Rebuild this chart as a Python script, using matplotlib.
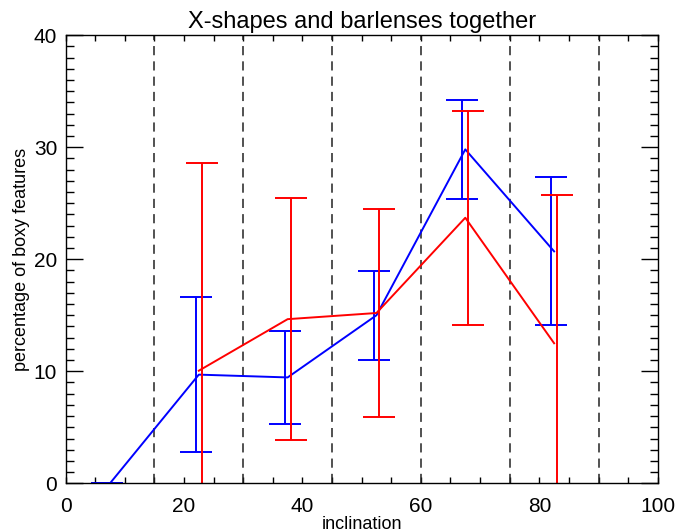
import numpy as np
import matplotlib.pyplot as plt
from matplotlib.ticker import MultipleLocator

plt.rcParams['font.family'] = ['Liberation Sans', 'DejaVu Sans']

# ====== data (bin centres in inclination) ======
incl = np.array([7.5, 22.5, 37.5, 52.5, 67.5, 82.5])

# X-shapes + barlenses, sample A (blue)
blue_val = np.array([0.0, 9.7, 9.45, 15.0, 29.8, 20.7])
blue_err = np.array([0.0, 6.9, 4.15, 3.95, 4.4, 6.6])

# sample B (red), no value in the first bin
red_val = np.array([np.nan, 10.05, 14.65, 15.2, 23.7, 12.5])
red_err = np.array([np.nan, 18.5, 10.8, 9.25, 9.55, 13.25])

bin_edges = [15, 30, 45, 60, 75, 90]

# ====== plot ======
fig = plt.figure(figsize=(6.76, 5.32), dpi=100)
ax = fig.add_axes([0.097, 0.0915, 0.876, 0.8425])

for xe in bin_edges:
    ax.axvline(xe, color='#222222', ls=(0, (6, 4)), lw=1.1)

ax.plot(incl, blue_val, color='blue', lw=1.4)
ax.errorbar(incl - 0.5, blue_val, yerr=blue_err, fmt='none', ecolor='blue',
            elinewidth=1.4, capsize=11.5, capthick=1.4)

ax.plot(incl, red_val, color='red', lw=1.4)
ax.errorbar(incl + 0.5, red_val, yerr=red_err, fmt='none', ecolor='red',
            elinewidth=1.4, capsize=11.5, capthick=1.4)

ax.set_xlim(0, 100)
ax.set_ylim(0, 40)
ax.xaxis.set_major_locator(MultipleLocator(20))
ax.xaxis.set_minor_locator(MultipleLocator(5))
ax.yaxis.set_major_locator(MultipleLocator(10))
ax.yaxis.set_minor_locator(MultipleLocator(1))
ax.tick_params(which='both', direction='in', top=True, right=True,
               labelsize=15, width=1.0)
ax.tick_params(axis='x', which='both', length=4, pad=10)
ax.tick_params(axis='y', which='major', length=12, pad=6)
ax.tick_params(axis='y', which='minor', length=6)
for s in ax.spines.values():
    s.set_linewidth(1.0)

ax.set_title('X-shapes and barlenses together', fontsize=17, pad=5)
ax.set_xlabel('inclination', fontsize=13, labelpad=0)
ax.set_ylabel('percentage of boxy features', fontsize=13, labelpad=3)

plt.savefig('out.png', dpi=100)
